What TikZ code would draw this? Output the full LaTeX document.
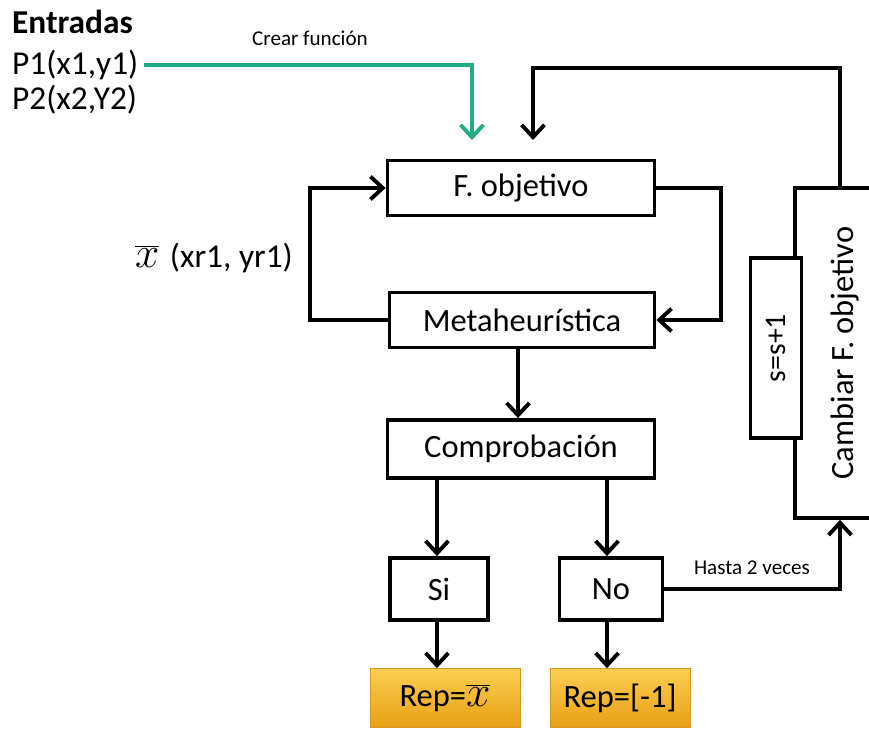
\documentclass[tikz,border=0pt]{standalone}
\usepackage{fontspec}
\setmainfont{Carlito}
\usetikzlibrary{arrows.meta}

\definecolor{verdeflecha}{RGB}{32,172,132}
\definecolor{repclaro}{RGB}{252,206,80}
\definecolor{reposcuro}{RGB}{232,160,22}
\definecolor{repborde}{RGB}{214,150,40}

\newcommand*{\anchoPic}{869}
\newcommand*{\altoPic}{729}

\begin{document}
\begin{tikzpicture}
[
	x=0.02cm, y=-0.02cm,
	caja/.style={draw,line width=2.2pt,fill=white,inner sep=2pt,font=\fontsize{18.5}{22}\selectfont},
	cajarep/.style={draw=repborde,thin,top color=repclaro,bottom color=reposcuro,inner sep=2pt,font=\fontsize{18.5}{22}\selectfont},
	texto/.style={inner sep=1pt,font=\fontsize{19}{23}\selectfont},
	chico/.style={inner sep=1pt,font=\fontsize{12}{14}\selectfont},
	flecha/.style={line width=2.2pt,-{Straight Barb[length=7pt,width=13pt,line width=2.2pt]}}
]

	\useasboundingbox (0,0) rectangle (\anchoPic,\altoPic);

	% entradas
	\node[texto,anchor=west,font=\fontsize{19}{23}\selectfont\bfseries] (entradas) at (10,22) {Entradas};
	\node[texto,anchor=west] (p1) at (10,65) {P1(x1,y1)};
	\node[texto,anchor=west] (p2) at (10,100) {P2(x2,Y2)};
	\node[chico] (crear) at (310,38) {Crear función};
	\node[texto,anchor=west] (xbarra) at (133,258) {\fontsize{26}{28}\selectfont$\overline{x}$\hspace{6pt}\fontsize{19}{23}\selectfont(xr1, yr1)};

	% cajas
	\node[caja,minimum width=5.34cm,minimum height=1.1cm] (fobj) at (521,188) {F. objetivo};
	\node[caja,minimum width=5.3cm,minimum height=1.1cm] (meta) at (522,320) {Metaheurística};
	\node[caja,minimum width=5.34cm,minimum height=1.16cm] (comp) at (521,449) {Comprobación};
	\node[caja,minimum width=1.96cm,minimum height=1.24cm] (si) at (439,589) {Si};
	\node[caja,minimum width=2.06cm,minimum height=1.24cm] (no) at (611,589) {No};
	\node[caja,rotate=90,minimum width=6.6cm,minimum height=2cm] (cambiar) at (845,353) {Cambiar F. objetivo};
	\node[caja,rotate=90,minimum width=3.6cm,minimum height=1.02cm,font=\fontsize{17}{20}\selectfont] (suma) at (776,348) {s=s+1};

	% resultados
	\node[cajarep,minimum width=3cm,minimum height=1.18cm] (rep1) at (445,698) {Rep=\fontsize{23}{26}\selectfont$\overline{x}$};
	\node[cajarep,minimum width=2.8cm,minimum height=1.18cm] (rep2) at (620,698) {Rep=[-1]};

	\node[chico] (hasta) at (752,568) {Hasta 2 veces};

	% puntos de llegada
	\coordinate (fin1) at (472,140);
	\coordinate (fin2) at (533,140);
	\coordinate (codo) at (533,68);

	% conectores
	\draw[flecha,verdeflecha,line width=2.6pt] ([xshift=2pt]p1.east) -| (fin1);
	\draw[flecha] ([xshift=-0.1cm]cambiar.east) |- (codo) -- (fin2);
	\draw[flecha] (meta.west) -- ++(-78,0) |- (fobj.west);
	\draw[flecha] (fobj.east) -- ++(65,0) |- (meta.east);
	\draw[flecha] ([xshift=-0.08cm]meta.south) -- ([xshift=-0.08cm]meta.south |- comp.north);
	\draw[flecha] ([xshift=-0.04cm]si.north |- comp.south) -- ([xshift=-0.04cm]si.north);
	\draw[flecha] ([xshift=-0.08cm]no.north |- comp.south) -- ([xshift=-0.08cm]no.north);
	\draw[flecha] ([xshift=-0.04cm]si.south) -- ([xshift=-0.04cm]si.south |- rep1.north);
	\draw[flecha] ([xshift=-0.08cm]no.south) -- ([xshift=-0.08cm]no.south |- rep2.north);
	\draw[flecha] (no.east) -| ([xshift=-0.1cm]cambiar.west);

\end{tikzpicture}
\end{document}
